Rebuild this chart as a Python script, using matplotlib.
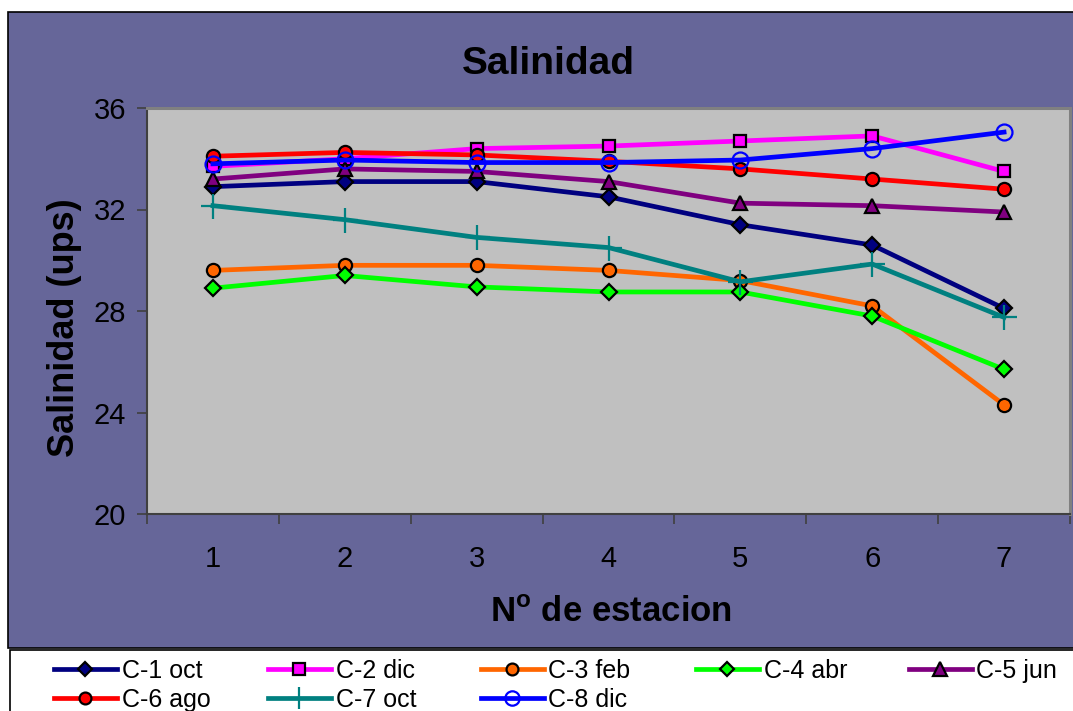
import matplotlib
matplotlib.use("Agg")
import matplotlib.pyplot as plt
from matplotlib import font_manager
from matplotlib.patches import Rectangle

# ---- data -------------------------------------------------------------
estaciones = [1, 2, 3, 4, 5, 6, 7]
series_names = ["C-1 oct", "C-2 dic", "C-3 feb", "C-4 abr",
                "C-5 jun", "C-6 ago", "C-7 oct", "C-8 dic"]
c1_oct = [32.9, 33.1, 33.1, 32.5, 31.4, 30.6, 28.1]
c2_dic = [33.7, 34.0, 34.4, 34.5, 34.7, 34.9, 33.5]
c3_feb = [29.6, 29.8, 29.8, 29.6, 29.2, 28.2, 24.3]
c4_abr = [28.9, 29.4, 28.95, 28.75, 28.75, 27.8, 25.7]
c5_jun = [33.2, 33.6, 33.5, 33.1, 32.25, 32.15, 31.9]
c6_ago = [34.1, 34.25, 34.15, 33.9, 33.6, 33.2, 32.8]
c7_oct = [32.15, 31.6, 30.9, 30.5, 29.15, 29.85, 27.75]
c8_dic = [33.8, 33.95, 33.85, 33.85, 33.95, 34.4, 35.05]
y_ticks = [20, 24, 28, 32, 36]

# ---- fonts ------------------------------------------------------------
available = {f.name for f in font_manager.fontManager.ttflist}
narrow = "Liberation Sans Narrow" if "Liberation Sans Narrow" in available else "Liberation Sans"
regular = "Liberation Sans"

W, H = 1073, 711
fig = plt.figure(figsize=(W / 100, H / 100), dpi=100)
fig.patch.set_facecolor("white")

def fx(px):
    return px / W

def fy(py):
    return 1 - py / H

# chart area background
fig.patches.append(Rectangle((fx(8), fy(648)), 1.2, fy(12) - fy(648),
                             transform=fig.transFigure, facecolor="#666699",
                             edgecolor="black", linewidth=1.2, zorder=-2))
# legend box
fig.patches.append(Rectangle((fx(10), fy(760)), 1.2, fy(650) - fy(760),
                             transform=fig.transFigure, facecolor="white",
                             edgecolor="black", linewidth=1.2, zorder=-2))

ax = fig.add_axes([fx(147), fy(514), fx(1070) - fx(147), fy(108) - fy(514)])
ax.set_zorder(1)
ax.set_facecolor("#C0C0C0")

styles = [
    dict(color="#000080", marker="D", ms=8, mfc="#000080", mec="black"),
    dict(color="#FF00FF", marker="s", ms=9, mfc="#FF00FF", mec="black"),
    dict(color="#FF6600", marker="o", ms=9.5, mfc="#FF6600", mec="black"),
    dict(color="#00FF00", marker="D", ms=8, mfc="#00FF00", mec="black"),
    dict(color="#800080", marker="^", ms=10.5, mfc="#800080", mec="black"),
    dict(color="#FF0000", marker="o", ms=9.5, mfc="#FF0000", mec="black"),
    dict(color="#008080", marker="+", ms=18, mfc="#008080", mec="#008080"),
    dict(color="#0000FF", marker="o", ms=11.5, mfc="none", mec="#0000FF"),
]
data = [c1_oct, c2_dic, c3_feb, c4_abr, c5_jun, c6_ago, c7_oct, c8_dic]

handles = []
for name, vals, st in zip(series_names, data, styles):
    (h,) = ax.plot(estaciones, vals, linewidth=3.4, markeredgewidth=1.6,
                   label=name, clip_on=False, **st)
    handles.append(h)

ax.set_xlim(0.5, 7.5)
ax.set_ylim(20, 36)
ax.set_yticks(y_ticks)
ax.set_xticks(estaciones)
ax.set_xticks([x + 0.5 for x in range(0, 8)], minor=True)

ax.tick_params(axis="y", which="major", direction="out", length=7, width=1.2,
               color="#404040", pad=8, labelsize=21, labelfontfamily=narrow)
ax.tick_params(axis="x", which="major", length=0, pad=22, labelsize=21,
               labelfontfamily=narrow)
ax.tick_params(axis="x", which="minor", direction="out", length=7, width=1.2,
               color="#404040")

for side in ("left", "bottom"):
    ax.spines[side].set_color("#404040")
    ax.spines[side].set_linewidth(1.5)
for side in ("top", "right"):
    ax.spines[side].set_color("#808080")
    ax.spines[side].set_linewidth(2.2)

fig.text(fx(548), fy(64), "Salinidad", ha="center", va="center",
         fontsize=28, fontweight="bold", family=regular)

ax.set_ylabel("Salinidad (ups)", fontsize=26, fontweight="bold", family=narrow)
ax.yaxis.set_label_coords((82 - 147) / 923, 0.46)
ax.set_xlabel(r"N$^{\mathdefault{o}}$ de estacion", fontsize=25,
              fontweight="bold", family=narrow)
ax.xaxis.set_label_coords((611 - 147) / 923, (514 - 596) / 406)

# legend, one block per column
col_x = [54, 268, 481, 696, 909]
for i, x in enumerate(col_x):
    hs = [handles[j] for j in (i, i + 5) if j < len(handles)]
    leg = fig.legend(handles=hs, labels=[h.get_label() for h in hs],
                     loc="upper left", bbox_to_anchor=(fx(x), fy(659)),
                     frameon=False, borderpad=0, borderaxespad=0,
                     handlelength=2.5, handletextpad=0.2, labelspacing=0.2,
                     markerscale=0.9,
                     prop=dict(family=regular, size=18))
    leg.set_zorder(2)

fig.savefig("out.png", dpi=100)
